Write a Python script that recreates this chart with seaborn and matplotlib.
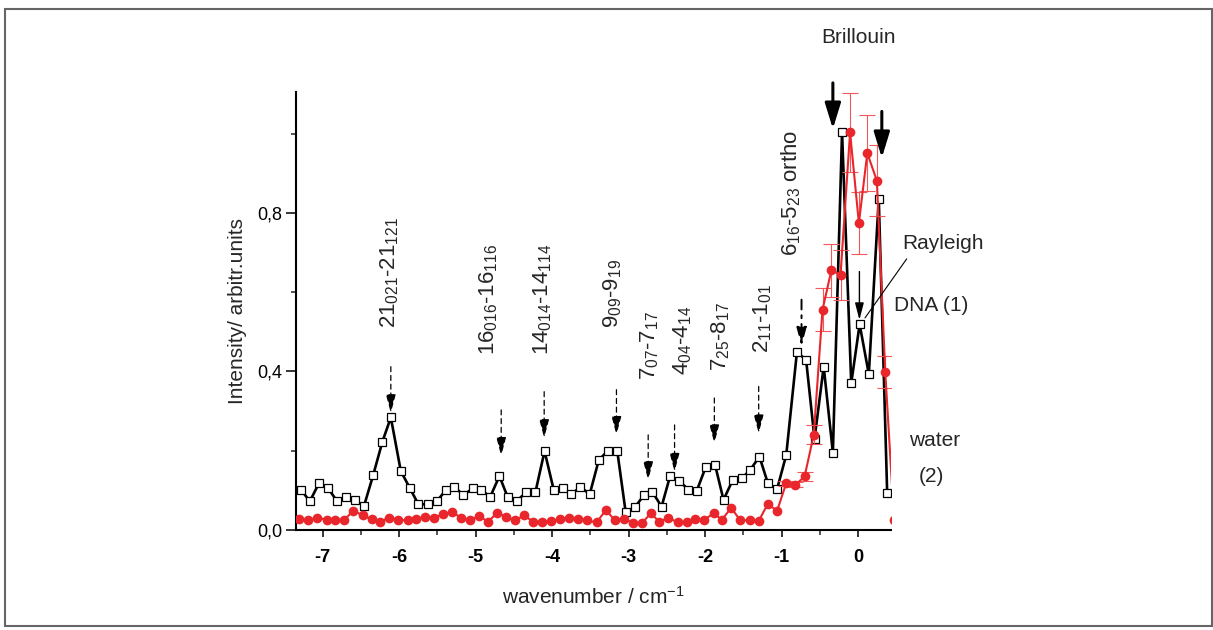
import matplotlib
matplotlib.use("Agg")
import matplotlib.pyplot as plt
import seaborn as sns
from matplotlib.patches import Rectangle

# ---------------- data ----------------
# DNA (1): open black squares
B_x = [-7.28, -7.17, -7.05, -6.93, -6.81, -6.69, -6.58, -6.46, -6.34, -6.22,
       -6.11, -5.98, -5.86, -5.75, -5.63, -5.51, -5.39, -5.28, -5.16, -5.04,
       -4.93, -4.81, -4.69, -4.58, -4.46, -4.34, -4.22, -4.10, -3.98, -3.86,
       -3.75, -3.63, -3.51, -3.39, -3.27, -3.15, -3.04, -2.92, -2.80, -2.69,
       -2.57, -2.46, -2.34, -2.22, -2.11, -1.99, -1.87, -1.76, -1.64, -1.52,
       -1.41, -1.29, -1.18, -1.06, -0.94, -0.80, -0.68, -0.57, -0.45, -0.33,
       -0.21, -0.09, 0.02, 0.14, 0.27, 0.38]
B_y = [0.101, 0.072, 0.118, 0.105, 0.072, 0.082, 0.075, 0.061, 0.139, 0.223,
       0.284, 0.149, 0.105, 0.065, 0.065, 0.072, 0.101, 0.109, 0.088, 0.105,
       0.101, 0.084, 0.136, 0.082, 0.074, 0.095, 0.095, 0.199, 0.101, 0.105,
       0.090, 0.109, 0.090, 0.177, 0.200, 0.200, 0.046, 0.057, 0.088, 0.096,
       0.059, 0.135, 0.124, 0.102, 0.099, 0.160, 0.164, 0.076, 0.126, 0.130,
       0.152, 0.185, 0.118, 0.103, 0.189, 0.449, 0.429, 0.230, 0.412, 0.195,
       1.004, 0.370, 0.519, 0.393, 0.836, 0.093]

# water (2): red filled circles with error bars
R_x = [-7.42, -7.31, -7.19, -7.07, -6.95, -6.84, -6.72, -6.60, -6.48, -6.36,
       -6.25, -6.13, -6.01, -5.89, -5.78, -5.66, -5.54, -5.43, -5.31, -5.19,
       -5.07, -4.96, -4.84, -4.72, -4.60, -4.48, -4.37, -4.25, -4.13, -4.01,
       -3.90, -3.78, -3.66, -3.54, -3.42, -3.30, -3.18, -3.06, -2.95, -2.83,
       -2.71, -2.60, -2.48, -2.36, -2.24, -2.13, -2.01, -1.89, -1.78, -1.66,
       -1.54, -1.42, -1.30, -1.18, -1.06, -0.94, -0.82, -0.70, -0.58, -0.465,
       -0.35, -0.23, -0.105, 0.01, 0.12, 0.245, 0.355, 0.47]
R_y = [0.025, 0.027, 0.024, 0.031, 0.026, 0.025, 0.025, 0.049, 0.037, 0.027,
       0.021, 0.031, 0.026, 0.024, 0.028, 0.033, 0.030, 0.041, 0.045, 0.031,
       0.025, 0.035, 0.021, 0.043, 0.033, 0.024, 0.037, 0.021, 0.021, 0.022,
       0.027, 0.031, 0.028, 0.024, 0.019, 0.050, 0.025, 0.029, 0.018, 0.017,
       0.042, 0.021, 0.030, 0.020, 0.020, 0.027, 0.026, 0.042, 0.026, 0.056,
       0.024, 0.025, 0.023, 0.066, 0.048, 0.118, 0.114, 0.135, 0.240, 0.556,
       0.655, 0.644, 1.003, 0.774, 0.951, 0.881, 0.398, 0.025]
R_err = [0] * 55 + [0.006, 0.006, 0.012, 0.024, 0.055,
                    0.066, 0.063, 0.100, 0.078, 0.095, 0.090, 0.040, 0.0]

X_TICKS = [-7, -6, -5, -4, -3, -2, -1, 0]
X_TICK_LABELS = ["-7", "-6", "-5", "-4", "-3", "-2", "-1", "0"]
X_MINOR = [-6.5, -5.5, -4.5, -3.5, -2.5, -1.5, -0.5]
Y_TICKS = [0.0, 0.4, 0.8]
Y_TICK_LABELS = ["0,0", "0,4", "0,8"]
Y_MINOR = [0.2, 0.6, 1.0]

LINE_LABELS = [r"$\mathregular{21_{021}}$-$\mathregular{21_{121}}$",
               r"$\mathregular{16_{016}}$-$\mathregular{16_{116}}$",
               r"$\mathregular{14_{014}}$-$\mathregular{14_{114}}$",
               r"$\mathregular{9_{09}}$-$\mathregular{9_{19}}$",
               r"$\mathregular{7_{07}}$-$\mathregular{7_{17}}$",
               r"$\mathregular{4_{04}}$-$\mathregular{4_{14}}$",
               r"$\mathregular{7_{25}}$-$\mathregular{8_{17}}$",
               r"$\mathregular{2_{11}}$-$\mathregular{1_{01}}$",
               r"$\mathregular{6_{16}}$-$\mathregular{5_{23}}$ ortho"]
LINE_LABEL_X = [-6.12, -4.83, -4.13, -3.21, -2.72, -2.29, -1.80, -1.25, -0.88]
LINE_LABEL_Y = [0.51, 0.442, 0.442, 0.51, 0.379, 0.391, 0.40, 0.447, 0.69]

ARROW_X = [-6.11, -4.667, -4.105, -3.16, -2.745, -2.40, -1.88, -1.30]
ARROW_TOP = [0.412, 0.303, 0.349, 0.354, 0.24, 0.265, 0.333, 0.362]
ARROW_TIP = [0.295, 0.187, 0.232, 0.24, 0.126, 0.147, 0.219, 0.244]

ORTHO_ARROW = (-0.74, 0.581, 0.463)
BRILLOUIN_X = [-0.33, 0.31]
BRILLOUIN_TOP = [1.128, 1.056]
BRILLOUIN_TIP = [1.012, 0.939]
RAYLEIGH_ARROW = (0.017, 0.652, 0.530)

RED = "#E8262B"
ERR_RED = "#F0585B"

# ---------------- style ----------------
sns.set_theme(style="ticks")
plt.rcParams["font.family"] = ["Liberation Sans", "DejaVu Sans"]
plt.rcParams["axes.unicode_minus"] = False

W, H = 1213, 630
fig = plt.figure(figsize=(W / 100, H / 100), dpi=100)
fig.patch.set_facecolor("white")
ax = fig.add_axes([296 / W, 100 / H, 595 / W, 438 / H])
ax.set_facecolor("white")

# ---------------- series ----------------
sns.lineplot(x=B_x, y=B_y, ax=ax, color="black", linewidth=1.9, marker="s",
             markersize=5.8, markerfacecolor="white", markeredgecolor="black",
             markeredgewidth=0.9, sort=False, estimator=None, zorder=2)

ex = [x for x, e in zip(R_x, R_err) if e > 0]
ey = [y for y, e in zip(R_y, R_err) if e > 0]
ee = [e for e in R_err if e > 0]
ax.errorbar(ex, ey, yerr=ee, fmt="none", ecolor=ERR_RED, elinewidth=0.8,
            capsize=5.5, capthick=0.8, zorder=2.5)

sns.lineplot(x=R_x, y=R_y, ax=ax, color=RED, linewidth=1.5, marker="o",
             markersize=7, markerfacecolor=RED, markeredgecolor=RED,
             markeredgewidth=0, sort=False, estimator=None, zorder=3)

# ---------------- axes ----------------
ax.set_xlim(-7.35, 0.43)
ax.set_ylim(0.0, 1.105)
for s in ["top", "right"]:
    ax.spines[s].set_visible(False)
for s in ["left", "bottom"]:
    ax.spines[s].set_linewidth(1.5)
    ax.spines[s].set_color("black")

ax.set_xticks(X_TICKS)
ax.set_xticklabels(X_TICK_LABELS, fontsize=13, fontweight="bold")
ax.set_xticks(X_MINOR, minor=True)
ax.set_yticks(Y_TICKS)
ax.set_yticklabels(Y_TICK_LABELS, fontsize=13)
ax.set_yticks(Y_MINOR, minor=True)
ax.tick_params(axis="x", which="major", direction="out", length=5, width=1.1,
               pad=9, colors="black")
ax.tick_params(axis="x", which="minor", direction="out", length=3.5, width=1.1)
ax.tick_params(axis="y", which="major", direction="out", length=7, width=1.1,
               pad=3, colors="black")
ax.tick_params(axis="y", which="minor", direction="out", length=3.5, width=1.1)

ax.set_xlabel(r"wavenumber / cm$\mathregular{^{-1}}$", fontsize=15, va="center")
ax.xaxis.set_label_coords(0.5, -0.153)
ax.set_ylabel("Intensity/ arbitr.units", fontsize=15, va="center")
ax.yaxis.set_label_coords(-0.099, 0.5)

# ---------------- annotations ----------------
for lab, lx, ly in zip(LINE_LABELS, LINE_LABEL_X, LINE_LABEL_Y):
    ax.text(lx, ly, lab, rotation=90, ha="center", va="bottom", fontsize=16)

for x, y0, y1 in zip(ARROW_X, ARROW_TOP, ARROW_TIP):
    ax.annotate("", xy=(x, y1), xytext=(x, y0),
                arrowprops=dict(arrowstyle="-|>,head_length=0.95,head_width=0.25",
                                color="black", lw=0.9, linestyle=(0, (4, 3)),
                                shrinkA=0, shrinkB=0))

ox, oy0, oy1 = ORTHO_ARROW
ax.annotate("", xy=(ox, oy1), xytext=(ox, oy0),
            arrowprops=dict(arrowstyle="-|>,head_length=0.95,head_width=0.25",
                            color="black", lw=1.4, linestyle=(0, (5, 3, 1.5, 3)),
                            shrinkA=0, shrinkB=0))

for x, y0, y1 in zip(BRILLOUIN_X, BRILLOUIN_TOP, BRILLOUIN_TIP):
    ax.annotate("", xy=(x, y1), xytext=(x, y0), annotation_clip=False,
                arrowprops=dict(arrowstyle="-|>,head_length=1.3,head_width=0.4",
                                color="black", lw=2.2, shrinkA=0, shrinkB=0))

rx, ry0, ry1 = RAYLEIGH_ARROW
ax.annotate("", xy=(rx, ry1), xytext=(rx, ry0),
            arrowprops=dict(arrowstyle="-|>,head_length=0.85,head_width=0.22",
                            color="black", lw=1.0, shrinkA=0, shrinkB=0))

ax.annotate("Rayleigh", xy=(0.09, 0.535), xytext=(0.58, 0.722),
            fontsize=15, ha="left", va="center", annotation_clip=False,
            arrowprops=dict(arrowstyle="-", color="black", lw=0.8,
                            shrinkA=2, shrinkB=0, relpos=(0.1, 0.0)))
ax.text(0.47, 0.566, "DNA (1)", fontsize=15, ha="left", va="center", clip_on=False)
ax.text(0.66, 0.226, "water", fontsize=15, ha="left", va="center", clip_on=False)
ax.text(0.79, 0.135, "(2)", fontsize=15, ha="left", va="center", clip_on=False)
ax.text(0.0, 1.242, "Brillouin", fontsize=15, ha="center", va="center", clip_on=False)

# figure frame
fig.patches.append(Rectangle((5 / W, 4 / H), (1212 - 5) / W, (621 - 4) / H,
                             transform=fig.transFigure, fill=False,
                             edgecolor="#666666", linewidth=1.5))

fig.savefig("out.png", dpi=100, facecolor="white")
